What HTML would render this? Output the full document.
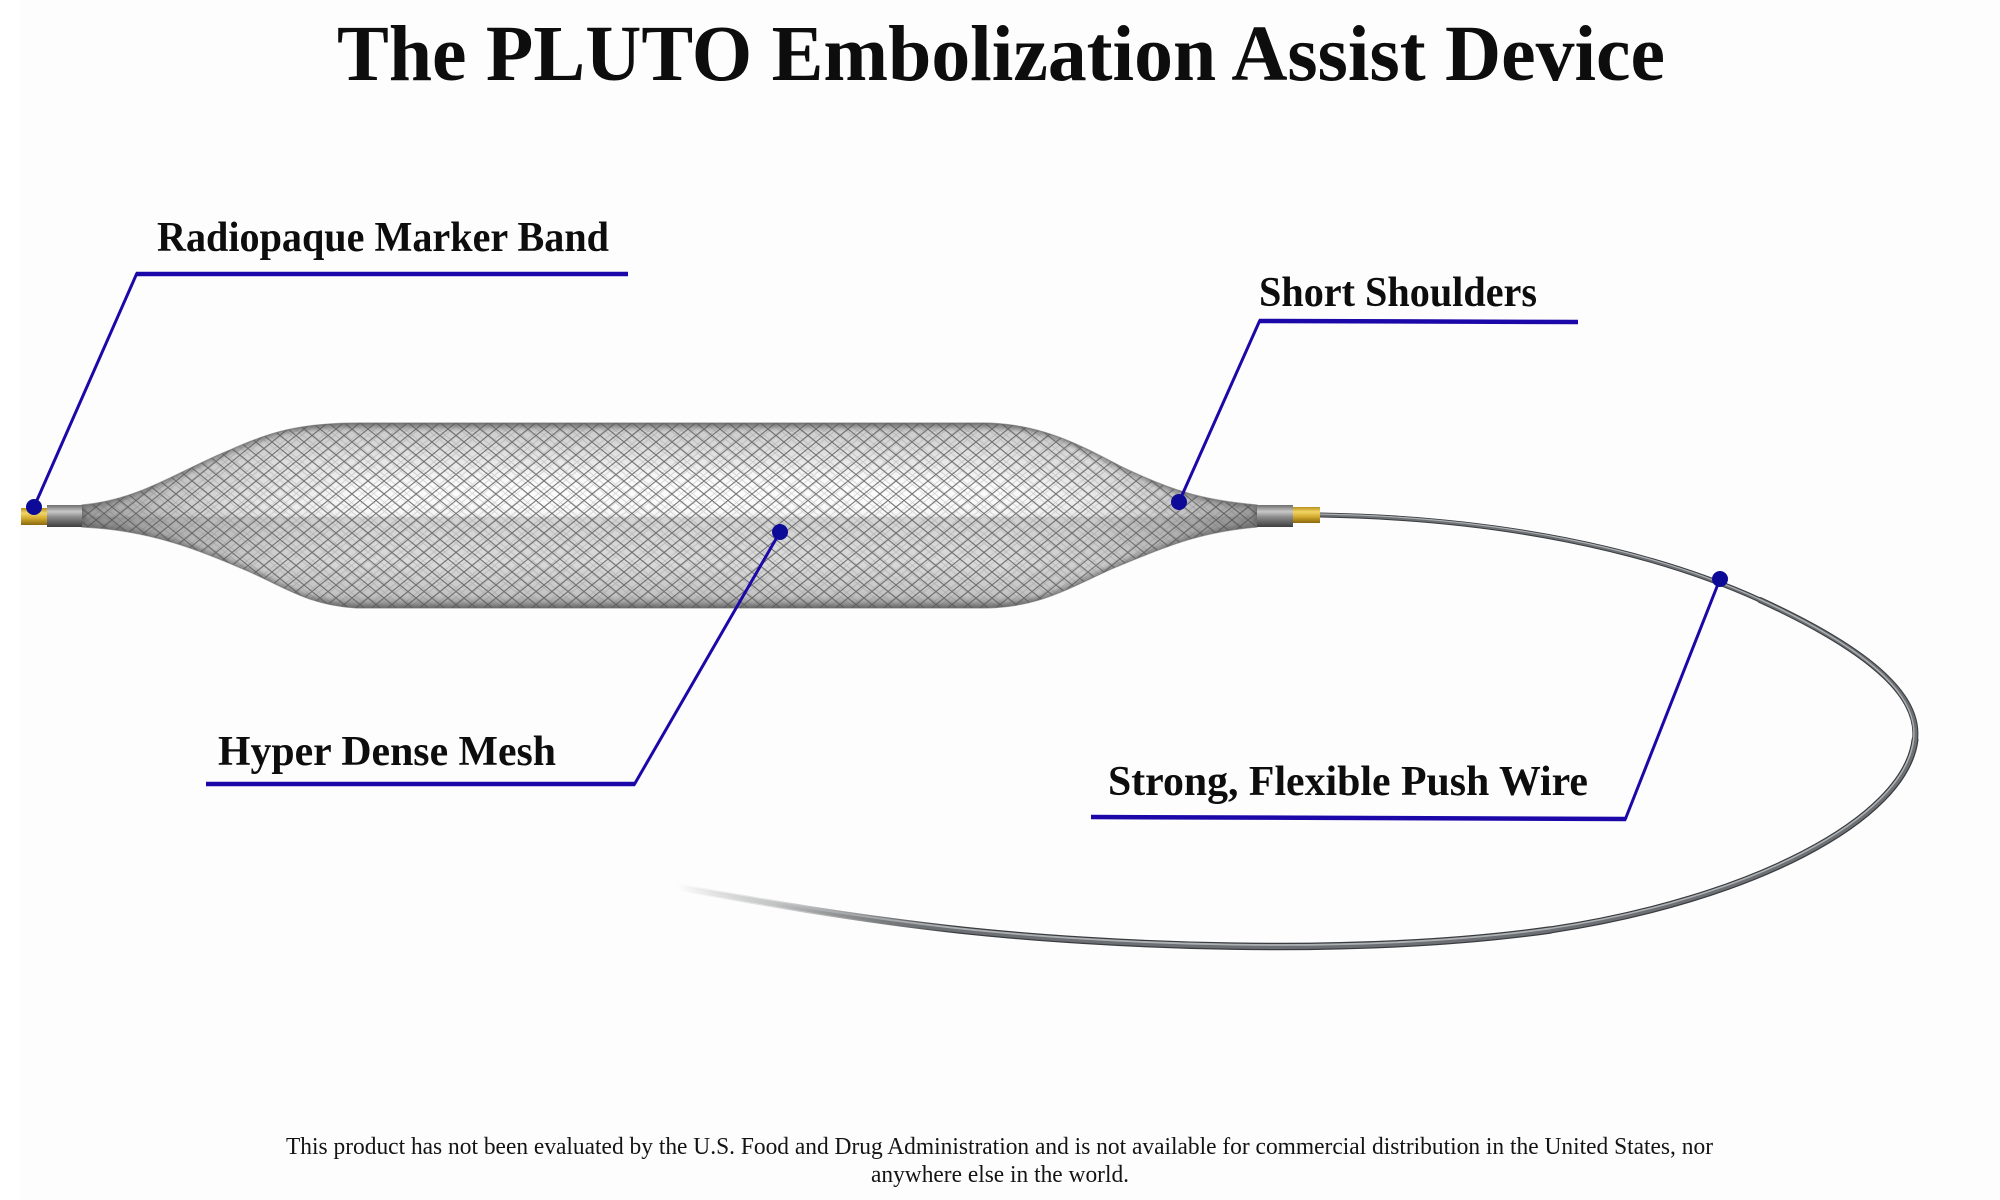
<!DOCTYPE html>
<html>
<head>
<meta charset="utf-8">
<style>
  html,body{margin:0;padding:0;background:#ffffff;}
  svg{display:block;}
  .lab{font-family:"Liberation Serif",serif;font-weight:bold;fill:#0d0d0d;}
  .foot{font-family:"Liberation Serif",serif;font-weight:normal;fill:#141414;}
</style>
</head>
<body>
<svg width="2000" height="1200" viewBox="0 0 2000 1200" xmlns="http://www.w3.org/2000/svg">
  <defs>
    <clipPath id="bodyclip">
      <path id="bodyp" d="M82,505 C140,500 180,470 230,450 C270,432 300,423 360,423 L982,423 C1040,423 1080,445 1120,466 C1170,490 1200,500 1257,505 L1257,527 C1200,532 1170,545 1116,567 C1070,587 1040,608 982,608 L357,608 C310,605 290,590 250,572 C200,550 150,530 82,527 Z"/>
    </clipPath>
    <linearGradient id="bodyg" x1="0" y1="423" x2="0" y2="608" gradientUnits="userSpaceOnUse">
      <stop offset="0" stop-color="#9a9a9a"/>
      <stop offset="0.05" stop-color="#cdcdcd"/>
      <stop offset="0.2" stop-color="#e6e6e6"/>
      <stop offset="0.42" stop-color="#f8f8f8"/>
      <stop offset="0.5" stop-color="#f4f4f4"/>
      <stop offset="0.51" stop-color="#d2d2d2"/>
      <stop offset="0.75" stop-color="#dadada"/>
      <stop offset="0.93" stop-color="#c4c4c4"/>
      <stop offset="1" stop-color="#888888"/>
    </linearGradient>
    <linearGradient id="endsg" x1="82" y1="0" x2="1257" y2="0" gradientUnits="userSpaceOnUse">
      <stop offset="0" stop-color="#4a4a4a" stop-opacity="0.55"/>
      <stop offset="0.08" stop-color="#5a5a5a" stop-opacity="0.3"/>
      <stop offset="0.17" stop-color="#6a6a6a" stop-opacity="0.08"/>
      <stop offset="0.24" stop-color="#6a6a6a" stop-opacity="0"/>
      <stop offset="0.78" stop-color="#6a6a6a" stop-opacity="0"/>
      <stop offset="0.86" stop-color="#6a6a6a" stop-opacity="0.1"/>
      <stop offset="0.93" stop-color="#5a5a5a" stop-opacity="0.3"/>
      <stop offset="1" stop-color="#4a4a4a" stop-opacity="0.55"/>
    </linearGradient>
    <pattern id="mesh" x="0" y="0" width="16" height="13" patternUnits="userSpaceOnUse">
      <path d="M-1,-0.8 L17,13.8 M17,-0.8 L-1,13.8" stroke="#555555" stroke-width="1.1" fill="none"/>
    </pattern>
    <pattern id="mesh2" x="5" y="3" width="11" height="9" patternUnits="userSpaceOnUse">
      <path d="M-1,-0.8 L12,9.8 M12,-0.8 L-1,9.8" stroke="#777777" stroke-width="0.8" fill="none"/>
    </pattern>
    <filter id="blur2" x="-10%" y="-10%" width="120%" height="120%">
      <feGaussianBlur stdDeviation="2"/>
    </filter>
    <filter id="blur8" x="-20%" y="-50%" width="140%" height="200%">
      <feGaussianBlur stdDeviation="8"/>
    </filter>
    <linearGradient id="goldg" x1="0" y1="0" x2="0" y2="1">
      <stop offset="0" stop-color="#b8901c"/>
      <stop offset="0.3" stop-color="#f2d666"/>
      <stop offset="0.6" stop-color="#d4ac30"/>
      <stop offset="1" stop-color="#8a680c"/>
    </linearGradient>
    <linearGradient id="bandg" x1="0" y1="0" x2="0" y2="1">
      <stop offset="0" stop-color="#6e6e6e"/>
      <stop offset="0.3" stop-color="#c8c8c8"/>
      <stop offset="0.55" stop-color="#8a8a8a"/>
      <stop offset="1" stop-color="#3e3e3e"/>
    </linearGradient>
    <linearGradient id="wfadeD" x1="677" y1="0" x2="955" y2="0" gradientUnits="userSpaceOnUse">
      <stop offset="0" stop-color="#3f4245" stop-opacity="0"/>
      <stop offset="0.35" stop-color="#50534f" stop-opacity="0.2"/>
      <stop offset="1" stop-color="#3a3d40" stop-opacity="1"/>
    </linearGradient>
    <linearGradient id="wfadeM" x1="677" y1="0" x2="955" y2="0" gradientUnits="userSpaceOnUse">
      <stop offset="0" stop-color="#8a8d90" stop-opacity="0"/>
      <stop offset="0.35" stop-color="#8a8d90" stop-opacity="0.3"/>
      <stop offset="1" stop-color="#6c6f73" stop-opacity="1"/>
    </linearGradient>
    <linearGradient id="wfadeH" x1="677" y1="0" x2="955" y2="0" gradientUnits="userSpaceOnUse">
      <stop offset="0" stop-color="#d0d3d5" stop-opacity="0"/>
      <stop offset="1" stop-color="#aeb1b4" stop-opacity="1"/>
    </linearGradient>
  </defs>

  <!-- background -->
  <rect x="0" y="0" width="2000" height="1200" fill="#ffffff"/>
  <rect x="20" y="0" width="1980" height="1200" fill="#fdfdfd"/>

  <!-- Title -->
  <text class="lab" x="337" y="80" font-size="79" textLength="1328" lengthAdjust="spacingAndGlyphs">The PLUTO Embolization Assist Device</text>

  <!-- Push wire: dark base -->
  <g fill="none" stroke-linecap="round">
    <path d="M1320,515 C1500,518 1650,550 1760,600" stroke="#3a3d40" stroke-width="5"/>
    <path d="M1760,600 C1880,655 1920,700 1915,740" stroke="#3a3d40" stroke-width="6"/>
    <path d="M1915,740 C1905,820 1750,900 1550,930" stroke="#3a3d40" stroke-width="7"/>
    <path d="M1550,930 C1350,958 1100,945 960,930" stroke="#3a3d40" stroke-width="7.5"/>
    <path d="M960,930 C850,918 750,900 677,887" stroke="url(#wfadeD)" stroke-width="7.5" stroke-linecap="butt"/>
  </g>
  <!-- Push wire: mid tone -->
  <g fill="none" stroke-linecap="round">
    <path d="M1320,515 C1500,518 1650,550 1760,600" stroke="#6c6f73" stroke-width="3"/>
    <path d="M1760,600 C1880,655 1920,700 1915,740" stroke="#6c6f73" stroke-width="3.8"/>
    <path d="M1915,740 C1905,820 1750,900 1550,930" stroke="#6c6f73" stroke-width="4.5"/>
    <path d="M1550,930 C1350,958 1100,945 960,930" stroke="#6c6f73" stroke-width="5"/>
    <path d="M960,930 C850,918 750,900 677,887" stroke="url(#wfadeM)" stroke-width="5" stroke-linecap="butt"/>
  </g>
  <!-- Push wire: highlight -->
  <g fill="none" stroke-linecap="round">
    <path d="M1320,514 C1500,517 1650,549 1759,599" stroke="#aeb1b4" stroke-width="1.2"/>
    <path d="M1759,599 C1879,654 1918.5,700 1913.5,740" stroke="#aeb1b4" stroke-width="1.4"/>
    <path d="M1913.5,740 C1903.5,819 1749.5,898.5 1550,928.5" stroke="#aeb1b4" stroke-width="1.6"/>
    <path d="M1550,928.5 C1350,956.5 1100,943.5 960,928.5" stroke="#aeb1b4" stroke-width="1.8"/>
    <path d="M960,928.5 C850,916.5 750,898.5 677,885.5" stroke="url(#wfadeH)" stroke-width="1.8" stroke-linecap="butt"/>
  </g>

  <!-- Mesh body -->
  <g clip-path="url(#bodyclip)">
    <rect x="70" y="415" width="1200" height="200" fill="url(#bodyg)"/>
    <ellipse cx="700" cy="490" rx="380" ry="18" fill="#ffffff" opacity="0.75" filter="url(#blur8)"/>
    <rect x="70" y="415" width="1200" height="200" fill="url(#mesh2)" opacity="0.3"/>
    <rect x="70" y="415" width="1200" height="200" fill="url(#mesh)" opacity="0.75"/>
    <rect x="70" y="415" width="1200" height="200" fill="url(#endsg)"/>
    <use href="#bodyp" fill="none" stroke="#555555" stroke-width="7" opacity="0.5" filter="url(#blur2)"/>
  </g>
  <use href="#bodyp" fill="none" stroke="#6a6a6a" stroke-width="1.2" opacity="0.6"/>

  <!-- End bands -->
  <rect x="47" y="505" width="35" height="22" fill="url(#bandg)"/>
  <rect x="21" y="508" width="26" height="17" fill="url(#goldg)"/>
  <rect x="1257" y="505" width="36" height="22" fill="url(#bandg)"/>
  <rect x="1293" y="507" width="27" height="16" fill="url(#goldg)"/>

  <!-- Callout lines -->
  <g stroke="#1c08a8" fill="none" stroke-linecap="butt">
    <line x1="136" y1="274" x2="628" y2="274" stroke-width="4.5"/>
    <line x1="137" y1="273" x2="34" y2="507" stroke-width="3"/>

    <line x1="1259" y1="321" x2="1578" y2="322" stroke-width="4.5"/>
    <line x1="1260" y1="320" x2="1179" y2="502" stroke-width="3"/>

    <line x1="206" y1="784" x2="635" y2="784" stroke-width="4.5"/>
    <line x1="634" y1="785" x2="780" y2="532" stroke-width="3"/>

    <line x1="1091" y1="817" x2="1626" y2="819" stroke-width="4.5"/>
    <line x1="1625" y1="820" x2="1720" y2="579" stroke-width="3"/>
  </g>
  <g fill="#0d0a98">
    <circle cx="34" cy="507" r="8"/>
    <circle cx="1179" cy="502" r="8"/>
    <circle cx="780" cy="532" r="8"/>
    <circle cx="1720" cy="579" r="8"/>
  </g>

  <!-- Labels -->
  <text class="lab" x="157" y="251" font-size="42" textLength="452" lengthAdjust="spacingAndGlyphs">Radiopaque Marker Band</text>
  <text class="lab" x="1259" y="306" font-size="42" textLength="278" lengthAdjust="spacingAndGlyphs">Short Shoulders</text>
  <text class="lab" x="218" y="765" font-size="42" textLength="338" lengthAdjust="spacingAndGlyphs">Hyper Dense Mesh</text>
  <text class="lab" x="1108" y="795" font-size="42" textLength="480" lengthAdjust="spacingAndGlyphs">Strong, Flexible Push Wire</text>

  <!-- Footer -->
  <text class="foot" x="286" y="1154" font-size="24" textLength="1427" lengthAdjust="spacingAndGlyphs">This product has not been evaluated by the U.S. Food and Drug Administration and is not available for commercial distribution in the United States, nor</text>
  <text class="foot" x="871" y="1182" font-size="24" textLength="258" lengthAdjust="spacingAndGlyphs">anywhere else in the world.</text>
</svg>
</body>
</html>
